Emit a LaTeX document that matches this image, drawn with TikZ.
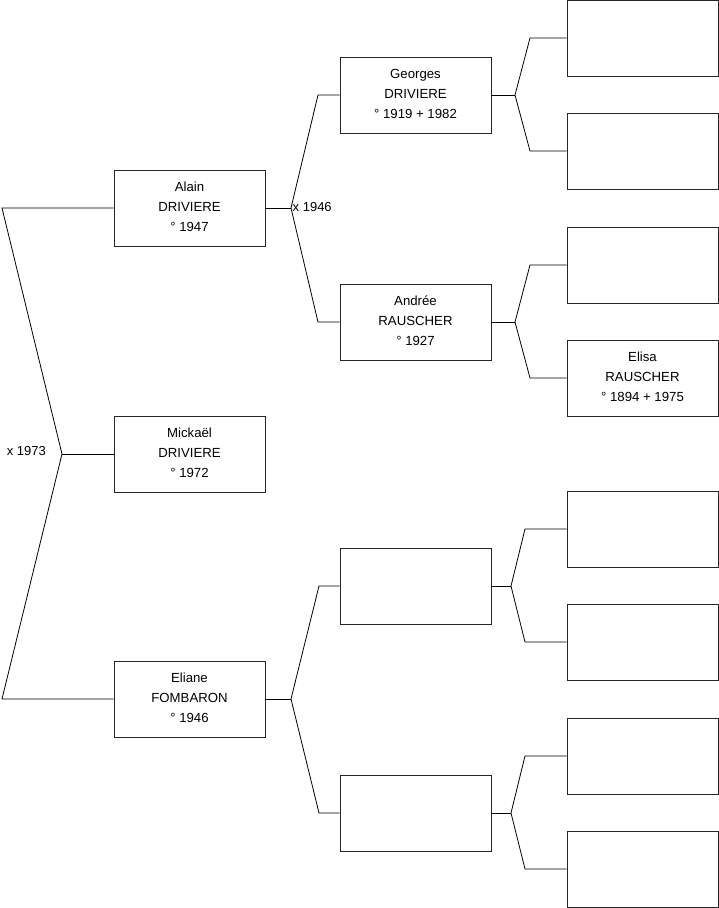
\documentclass[tikz,border=0pt]{standalone}
\usepackage{fontspec}
\setmainfont{Liberation Sans}
\begin{document}
\begin{tikzpicture}[x=1pt,y=-1pt,
  person/.style={draw=black!85,line width=0.9pt,fill=white,minimum width=151pt,minimum height=76pt,
    inner sep=0pt,align=center,font=\fontsize{13.2}{20}\selectfont,text depth=0pt},
  link/.style={draw=black,line width=0.8pt},
  marr/.style={font=\fontsize{13}{15}\selectfont,inner sep=0pt}]
\useasboundingbox (0,0) rectangle (719,908);
% level 1
\node[person] (alain) at (189.5,208) {Alain\\DRIVIERE\\° 1947\vspace{3pt}};
\node[person] (mickael) at (189.5,454) {Mickaël\\DRIVIERE\\° 1972\vspace{3pt}};
\node[person] (eliane) at (189.5,699) {Eliane\\FOMBARON\\° 1946\vspace{3pt}};
% level 2
\node[person] (georges) at (415.5,95) {Georges\\DRIVIERE\\° 1919 + 1982\vspace{3pt}};
\node[person] (andree) at (415.5,322) {Andrée\\RAUSCHER\\° 1927\vspace{3pt}};
\node[person] (p3) at (415.5,586) {};
\node[person] (p4) at (415.5,813) {};
% level 3
\node[person] (q1) at (642.5,38) {};
\node[person] (q2) at (642.5,151) {};
\node[person] (q3) at (642.5,265) {};
\node[person] (q4) at (642.5,378) {Elisa\\RAUSCHER\\° 1894 + 1975\vspace{3pt}};
\node[person] (q5) at (642.5,529) {};
\node[person] (q6) at (642.5,642) {};
\node[person] (q7) at (642.5,756) {};
\node[person] (q8) at (642.5,869) {};
% root fork
\coordinate (f0) at (62,454);
\coordinate (f0a) at (2,208);
\coordinate (f0b) at (2,699);
\draw[link] (alain.west) -- (f0a) -- (f0) -- (f0b) -- (eliane.west);
\draw[link] (f0) -- (mickael.west);
\node[marr,anchor=east] (m0) at (46,451) {x 1973};
% Alain fork
\coordinate (f1) at (291,208);
\coordinate (f1a) at (318,95);
\coordinate (f1b) at (318,322);
\draw[link] (alain.east) -- (f1);
\draw[link] (georges.west) -- (f1a) -- (f1) -- (f1b) -- (andree.west);
\node[marr,anchor=west] (m1) at (292.5,207) {x 1946};
% Eliane fork
\coordinate (f2) at (291,699);
\coordinate (f2a) at (319,586);
\coordinate (f2b) at (319,813);
\draw[link] (eliane.east) -- (f2);
\draw[link] (p3.west) -- (f2a) -- (f2) -- (f2b) -- (p4.west);
% Georges fork
\coordinate (g1) at (515,95);
\coordinate (g1a) at (530,38);
\coordinate (g1b) at (530,151);
\draw[link] (georges.east) -- (g1);
\draw[link] (q1.west) -- (g1a) -- (g1) -- (g1b) -- (q2.west);
% Andree fork
\coordinate (g2) at (515,322);
\coordinate (g2a) at (530,265);
\coordinate (g2b) at (530,378);
\draw[link] (andree.east) -- (g2);
\draw[link] (q3.west) -- (g2a) -- (g2) -- (g2b) -- (q4.west);
% p3 fork
\coordinate (g3) at (511,586);
\coordinate (g3a) at (525,529);
\coordinate (g3b) at (525,642);
\draw[link] (p3.east) -- (g3);
\draw[link] (q5.west) -- (g3a) -- (g3) -- (g3b) -- (q6.west);
% p4 fork
\coordinate (g4) at (511,813);
\coordinate (g4a) at (525,756);
\coordinate (g4b) at (525,869);
\draw[link] (p4.east) -- (g4);
\draw[link] (q7.west) -- (g4a) -- (g4) -- (g4b) -- (q8.west);
\end{tikzpicture}
\end{document}
